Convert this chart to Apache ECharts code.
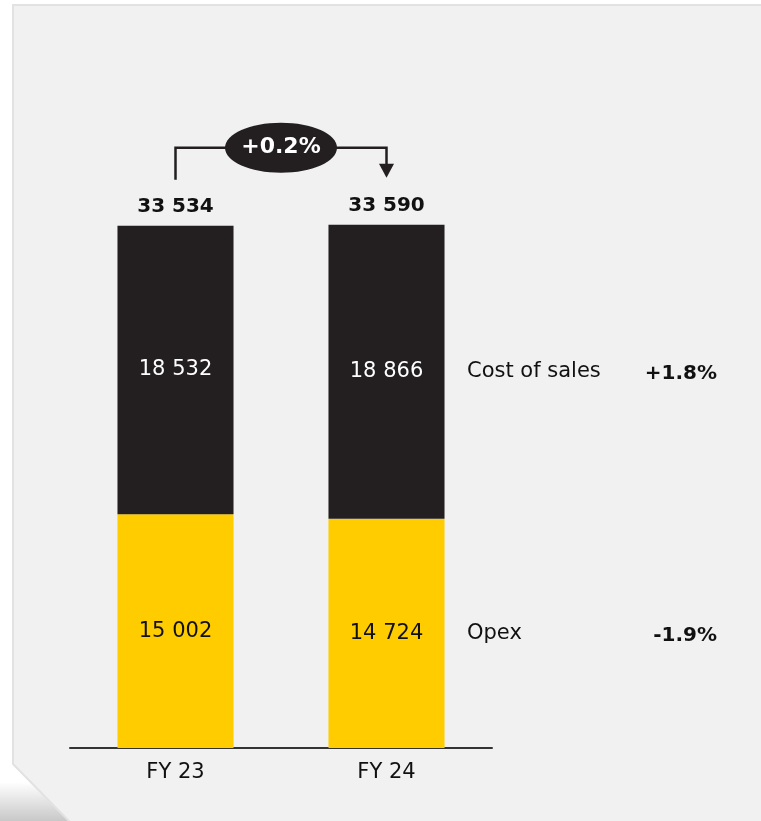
<!DOCTYPE html>
<html><head><meta charset="utf-8">
<script src="https://cdn.jsdelivr.net/npm/echarts@6/dist/echarts.min.js"></script>
<style>html,body{margin:0;padding:0;background:#fff}#c{width:761px;height:821px}</style>
</head><body><div id="c"></div>
<script>
const categories = ['FY 23', 'FY 24'];
const opex = [15002, 14724];
const costOfSales = [18532, 18866];
const totals = [33534, 33590];
const segmentNames = ['Cost of sales', 'Opex'];
const segmentChanges = ['+1.8%', '-1.9%'];
const totalChange = '+0.2%';

const FONT = '"DejaVu Sans", sans-serif';
const DARK = '#231f20';
const YELLOW = '#ffcc00';
const fmt = v => String(v).replace(/\B(?=(\d{3})+(?!\d))/g, ' ');

const chart = echarts.init(document.getElementById('c'), null, {renderer: 'canvas'});
const base = {
  backgroundColor: '#ffffff',
  animation: false,
  grid: {left: 70, right: 269, top: 125, bottom: 73},
  xAxis: {
    type: 'category', data: categories,
    axisLine: {lineStyle: {color: '#333', width: 2}},
    axisTick: {show: false},
    axisLabel: {fontFamily: FONT, fontSize: 21, color: '#111', margin: 14}
  },
  yAxis: {type: 'value', min: 0, max: 40000, show: false, splitLine: {show: false}},
  series: [
    {name: 'Opex', type: 'bar', stack: 't', barWidth: '55%', data: opex,
     itemStyle: {color: YELLOW},
     label: {show: true, position: 'inside', formatter: p => fmt(p.value), fontFamily: FONT, fontSize: 21, color: '#111'}},
    {name: 'Cost of sales', type: 'bar', stack: 't', data: costOfSales,
     itemStyle: {color: DARK},
     label: {show: true, position: 'inside', formatter: p => fmt(p.value), fontFamily: FONT, fontSize: 21, color: '#fff'}}
  ]
};
chart.setOption(base);

function px(i, v) { return chart.convertToPixel({gridIndex: 0}, [i, v]); }
const g = [];
// panel background
g.push({type: 'rect', z: -100, shape: {x: 0, y: 782, width: 75, height: 39},
  style: {fill: new echarts.graphic.LinearGradient(0, 0, 0, 1, [{offset: 0, color: '#ffffff'}, {offset: 1, color: '#c8c8c8'}])}});
g.push({type: 'polygon', z: -99, shape: {points: [[13, 5], [762, 5], [762, 822], [70, 822], [13, 764]]},
  style: {fill: '#f1f1f1', stroke: '#e2e2e2', lineWidth: 2}});

// totals
totals.forEach((t, i) => {
  const p = px(i, t);
  g.push({type: 'text', z: 10, x: p[0], y: p[1] - 19,
    style: {text: fmt(t), font: 'bold 20px ' + FONT, fill: '#111', align: 'center', verticalAlign: 'middle'}});
});
// connector
const a = px(0, totals[0]), b = px(1, totals[1]);
const yTop = a[1] - 78;
g.push({type: 'polyline', z: 10, shape: {points: [[a[0], a[1] - 46], [a[0], yTop], [b[0], yTop], [b[0], b[1] - 60]]},
  style: {stroke: DARK, lineWidth: 2.5, fill: null}});
g.push({type: 'polygon', z: 10, shape: {points: [[b[0] - 7.5, b[1] - 61], [b[0] + 7.5, b[1] - 61], [b[0], b[1] - 47]]},
  style: {fill: DARK}});
const mx = (a[0] + b[0]) / 2;
g.push({type: 'ellipse', z: 11, shape: {cx: mx, cy: yTop, rx: 56, ry: 25}, style: {fill: DARK}});
g.push({type: 'text', z: 12, x: mx, y: yTop, style: {text: totalChange, font: 'bold 22px ' + FONT, fill: '#fff', align: 'center', verticalAlign: 'middle'}});

// segment annotations next to FY 24
const segMid = [opex[1] + costOfSales[1] / 2, opex[1] / 2];
segMid.forEach((v, k) => {
  const p = px(1, v);
  const right = p[0] + 58.5;
  g.push({type: 'text', z: 10, x: right + 22, y: p[1], style: {text: segmentNames[k], font: '21px ' + FONT, fill: '#111', align: 'left', verticalAlign: 'middle'}});
  g.push({type: 'text', z: 10, x: right + 272, y: p[1] + 2, style: {text: segmentChanges[k], font: 'bold 20px ' + FONT, fill: '#111', align: 'right', verticalAlign: 'middle'}});
});
chart.setOption({graphic: {elements: g}});
</script></body></html>
